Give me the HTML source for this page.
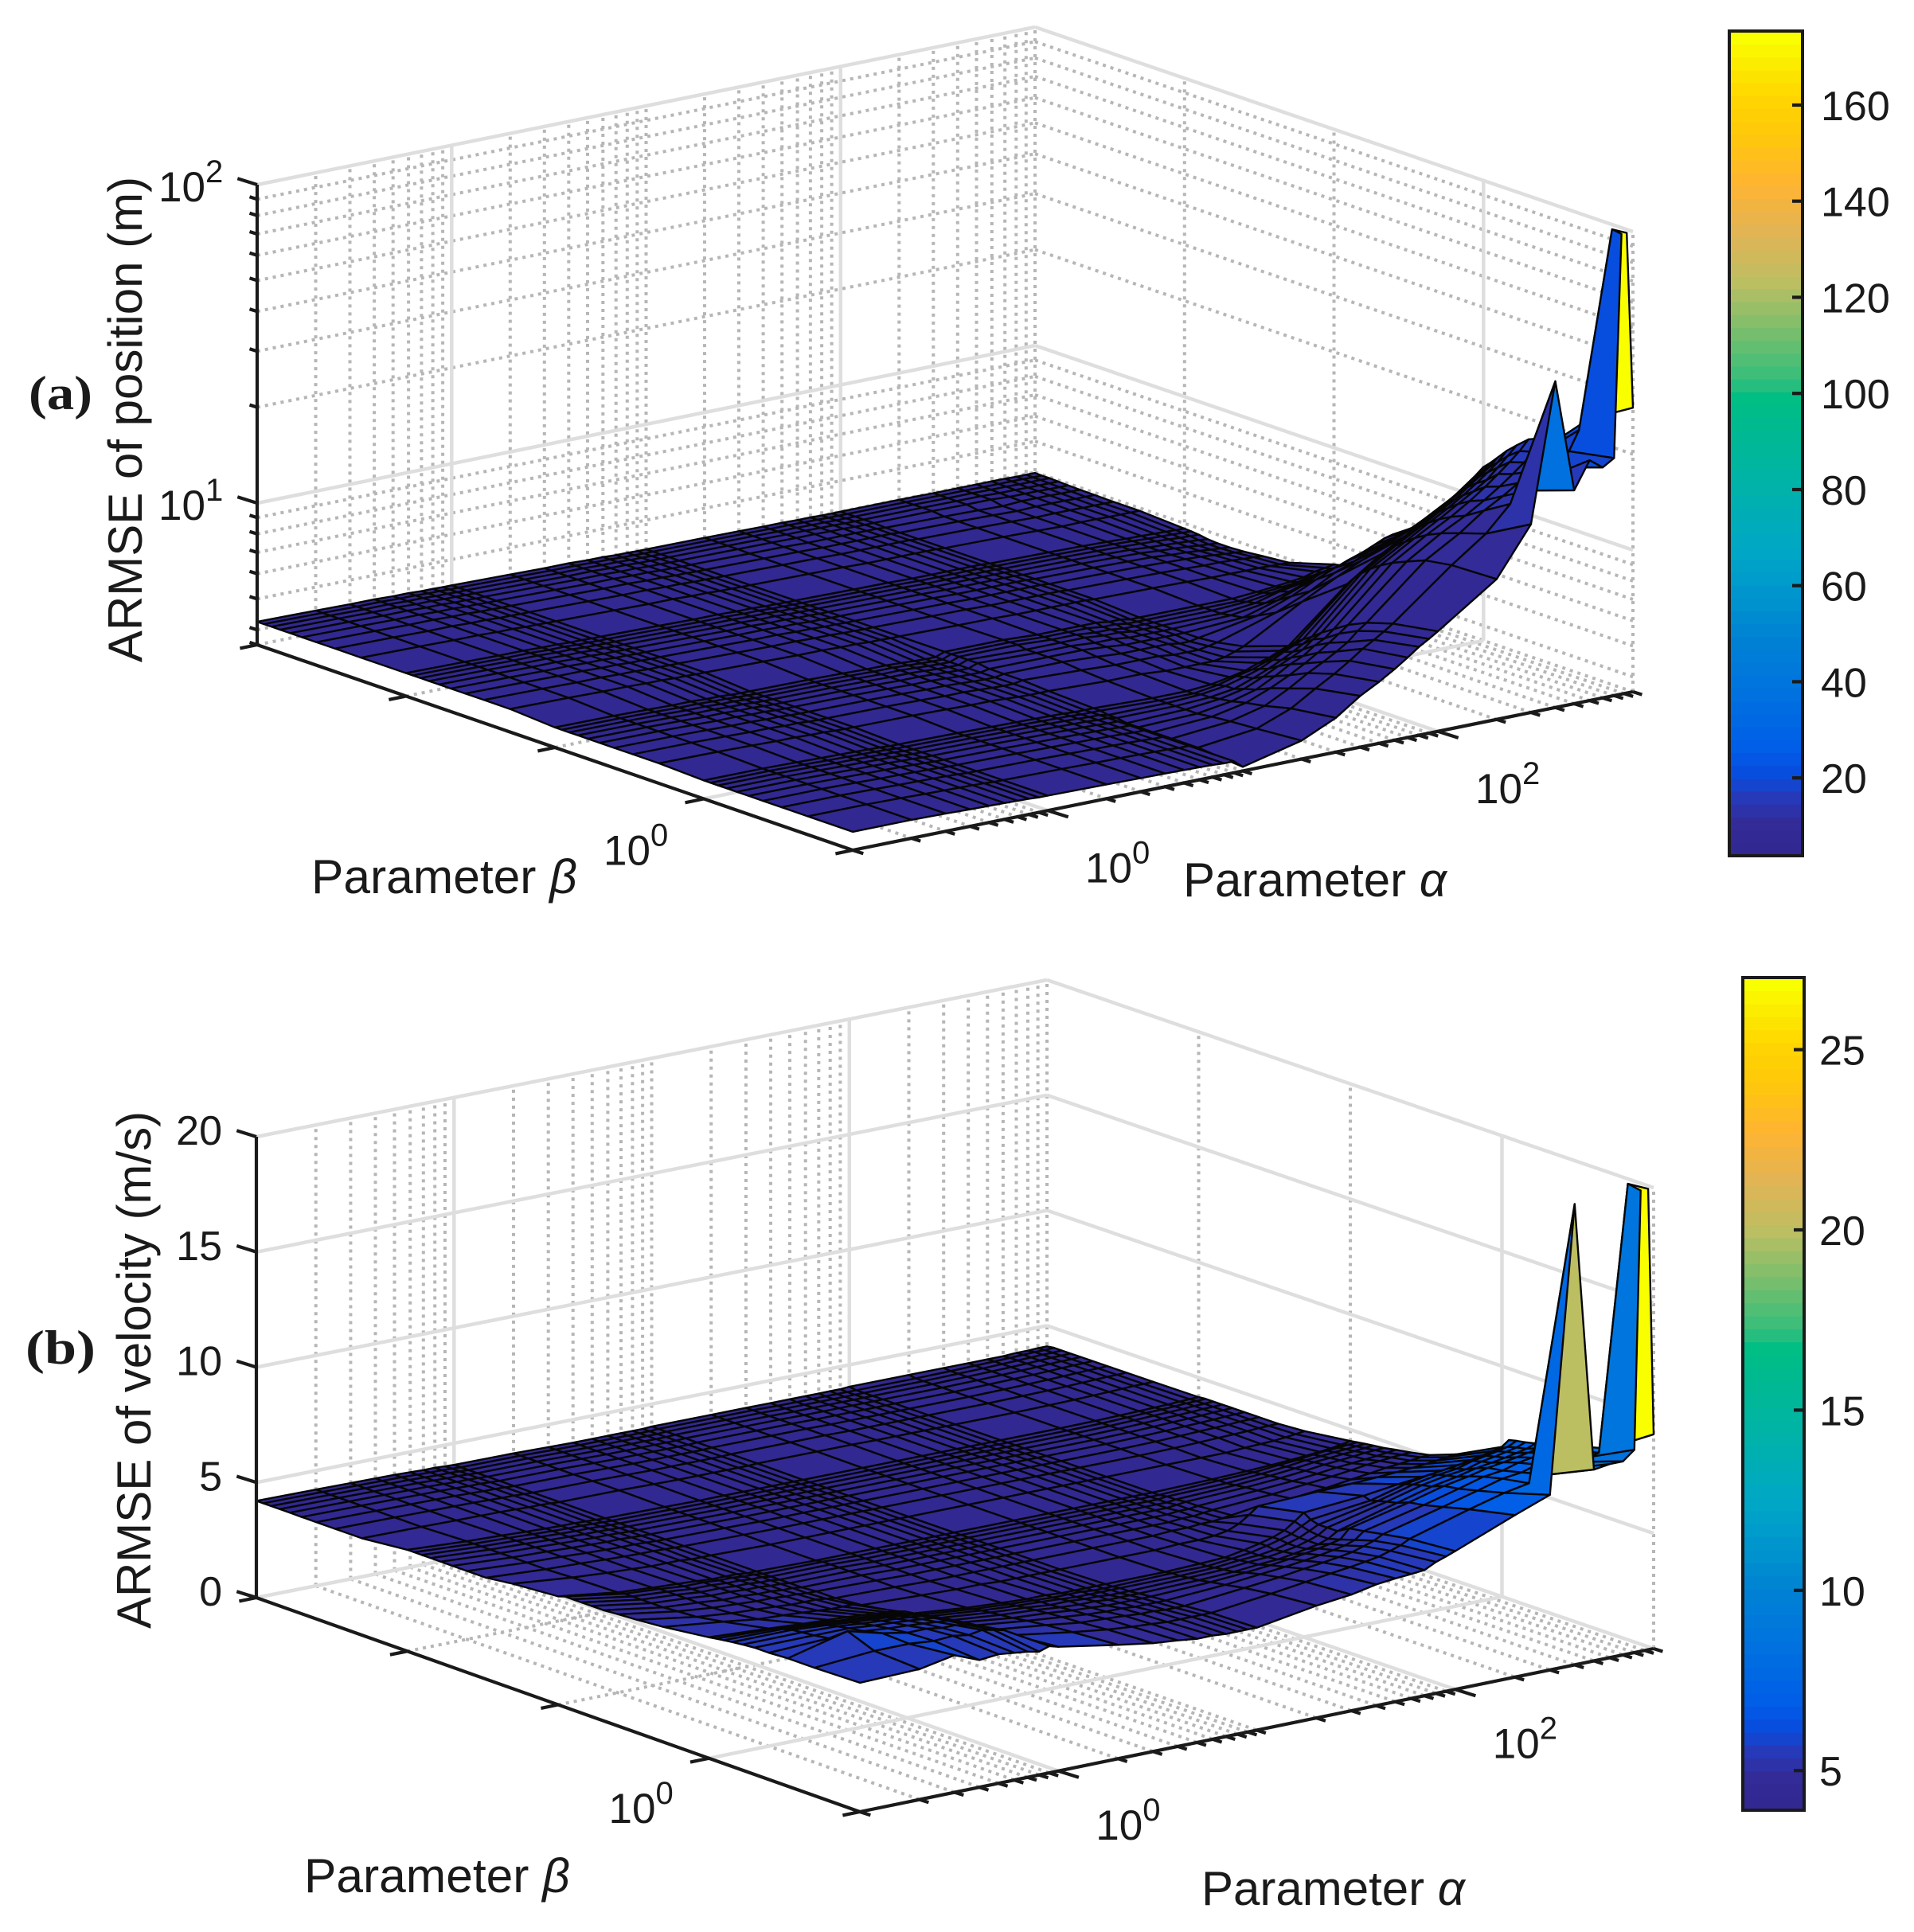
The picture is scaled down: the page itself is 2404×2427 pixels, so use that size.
<!DOCTYPE html>
<html lang="en">
<head>
<meta charset="utf-8">
<title>ARMSE surfaces over parameters alpha and beta</title>
<style>
html,body{margin:0;padding:0;background:#fff}
svg{display:block}
text{font-family:"Liberation Sans",Arial,sans-serif;fill:#1a1a1a}
</style>
</head>
<body>
<svg id="figure" xmlns="http://www.w3.org/2000/svg" width="2404" height="2427" viewBox="0 0 2404 2427">
  <rect width="2404" height="2427" fill="#fff"/>
  <g id="panelA"></g>
  <g id="panelB"></g>

  <text x="36" y="514" font-size="60" font-weight="bold" textLength="80" lengthAdjust="spacingAndGlyphs" style="font-family:'Liberation Serif',serif">(a)</text>
  <text x="32" y="1713" font-size="60" font-weight="bold" textLength="88" lengthAdjust="spacingAndGlyphs" style="font-family:'Liberation Serif',serif">(b)</text>

  <text font-size="60" text-anchor="middle" transform="translate(178 527) rotate(-90)">ARMSE of position (m)</text>
  <text font-size="60" text-anchor="middle" transform="translate(189 1721) rotate(-90)">ARMSE of velocity (m/s)</text>

  <text x="391" y="1122" font-size="60.5">Parameter <tspan font-style="italic">β</tspan></text>
  <text x="1486" y="1126" font-size="60">Parameter <tspan font-style="italic">α</tspan></text>
  <text x="382" y="2377" font-size="60.5">Parameter <tspan font-style="italic">β</tspan></text>
  <text x="1509" y="2393" font-size="60">Parameter <tspan font-style="italic">α</tspan></text>
</svg>

<script>
// ---- shared grid values ----
const alphaValues = [0.1,0.2,0.3,0.4,0.5,0.6,0.7,0.8,0.9,1,2,3,4,5,6,7,8,9,10,20,30,40,50,60,70,80,90,100,200,300,400,500,600,700,800,900,1000];
const betaValues = [10,5,3.333,2.5,2,1.667,1.429,1.25,1.111,1,0.5,0.3333,0.25,0.2,0.1667,0.1429,0.125,0.1111,0.1,0.05,0.03333,0.025,0.02,0.01667,0.01429,0.0125,0.01111,0.01,0.005,0.003333,0.0025,0.002,0.001667,0.001429,0.00125,0.001111,0.001];
const alphaMajorTicks = [1,100];
const alphaMinorTicks = [0.2,0.3,0.4,0.5,0.6,0.7,0.8,0.9,2,3,4,5,6,7,8,9,10,20,30,40,50,60,70,80,90,200,300,400,500,600,700,800,900,1000];
const betaMajorTicks = [1];
const betaMinorTicks = [0.001,0.01,0.1,10];

// ---- panel (a): position ARMSE ----
const posZMajor = [10,100];
const posZMinor = [4,5,6,7,8,9,20,30,40,50,60,70,80,90];
const posBarTicks = [20,40,60,80,100,120,140,160];
const posLowFront = [4.1,4.1,4.08,4.06,4.05,4.04,4.03,4.02,4.0,4.0,3.98,3.96,3.95,3.94,3.93,3.92,3.9,3.9];
const posLowMid = [4.15,4.14,4.12,4.1,4.1,4.08,4.08,4.06,4.05,4.05,4.04,4.02,4.0,4.0,3.98,3.96,3.95,3.95];
const posLowFar = [4.24,4.22,4.2,4.2,4.18,4.18,4.16,4.16,4.15,4.15,4.12,4.1,4.1,4.08,4.08,4.06,4.06,4.05];
const posTailHead = [4.05,4.03,4.02,4.0,4.0,4.0,4.0,4.0,4.0,3.98,3.96,3.94,3.92];
const posTailEdge = [4.05,4.04,4.03,4.02,4.02,4.01,4.01,4.0,4.0,4.0,4.0,3.99,3.99];
const posZ = [
[...posLowFront,3.7,4.1,4.6,5.2,5.6,6.0,6.4,6.8,7.1,7.4,9.9,14,38,16.8,20.4,19,20,174,28],
[...posLowFront,3.8,4.0,4.4,4.9,5.3,5.7,6.1,6.4,6.7,7.0,9.8,11.7,14,15,16,17,18.8,21.6,23],
[...posLowFront,3.8,3.95,4.2,4.6,5.0,5.3,5.6,5.9,6.3,6.6,9.5,11,12.5,13.5,14.5,15.5,16.5,18,19],
[...posLowFront,3.8,3.9,4.1,4.4,4.7,5.0,5.3,5.6,5.9,6.2,9.0,10.5,11.5,12.5,13.5,14.5,15.5,16.5,18],
[...posLowFront,3.8,3.85,4.0,4.2,4.5,4.8,5.0,5.3,5.5,5.8,8.6,10,11,12,13,14,15,16,17.2],
[...posLowFront,3.8,3.85,3.95,4.1,4.35,4.6,4.8,5.0,5.3,5.5,8.2,9.5,10.5,11.4,12.2,13,14,15,16],
[...posLowFront,3.85,3.85,3.9,4.0,4.2,4.4,4.6,4.8,5.0,5.2,7.8,9,10,10.8,11.6,12.4,13.2,14,15],
[...posLowFront,3.85,3.85,3.9,4.0,4.15,4.3,4.5,4.7,4.85,5.0,7.4,8.6,9.5,10.3,11,11.8,12.5,13.2,14],
[...posLowFront,3.9,3.85,3.85,3.95,4.1,4.2,4.35,4.5,4.65,4.8,7.0,8.2,9.1,9.8,10.5,11.2,11.8,12.5,13.2],
[...posLowFront,3.9,3.85,3.85,3.9,4.0,4.1,4.25,4.35,4.5,4.6,6.6,7.8,8.6,9.3,10,10.6,11.2,11.9,12.6],
[...posLowMid,3.95,3.9,3.9,3.85,3.85,3.85,3.85,3.9,4.0,4.1,5.2,5.9,6.4,6.8,7.1,7.4,7.6,7.8,7.9],
[...posLowMid,4.0,3.95,3.9,3.9,3.9,3.85,3.85,3.85,3.9,3.95,4.5,5.0,5.5,5.8,6.1,6.3,6.5,6.7,6.8],
[...posLowMid,4.0,4.0,3.95,3.9,3.9,3.9,3.9,3.85,3.85,3.9,4.2,4.6,5.0,5.3,5.5,5.7,5.9,6.1,6.2],
[...posLowMid,4.0,4.0,4.0,3.95,3.9,3.9,3.9,3.9,3.9,3.9,4.0,4.3,4.6,4.9,5.0,5.2,5.3,5.5,5.6],
[...posLowMid,4.05,4.0,4.0,3.95,3.95,3.9,3.9,3.9,3.9,3.9,3.95,4.1,4.3,4.5,4.7,4.8,4.9,5.0,5.1],
[...posLowMid,4.05,4.0,4.0,4.0,3.95,3.95,3.9,3.9,3.9,3.9,3.9,4.0,4.2,4.3,4.4,4.5,4.6,4.65,4.7],
[...posLowMid,4.05,4.05,4.0,4.0,3.95,3.95,3.9,3.9,3.9,3.9,3.9,3.95,4.05,4.15,4.25,4.3,4.4,4.45,4.5],
[...posLowMid,4.05,4.05,4.0,4.0,4.0,3.95,3.95,3.9,3.9,3.9,3.9,3.9,4.0,4.05,4.1,4.2,4.25,4.3,4.35],
[...posLowMid,4.05,4.05,4.0,4.0,4.0,4.0,3.95,3.95,3.9,3.9,3.9,3.9,3.95,4.0,4.05,4.1,4.2,4.25,4.3],
[...posLowFar,...posTailHead,3.92,3.92,3.92,3.91,3.9,3.9],
[...posLowFar,...posTailHead,3.9,3.9,3.88,3.86,3.85,3.83],
[...posLowFar,...posTailHead,3.9,3.88,3.85,3.82,3.8,3.78],
[...posLowFar,...posTailHead,3.88,3.86,3.83,3.8,3.78,3.76],
[...posLowFar,...posTailHead,3.88,3.86,3.83,3.8,3.78,3.76],
[...posLowFar,...posTailHead,3.88,3.86,3.84,3.82,3.8,3.78],
[...posLowFar,...posTailHead,3.9,3.88,3.86,3.84,3.83,3.82],
[...posLowFar,...posTailHead,3.9,3.88,3.87,3.86,3.85,3.84],
[...posLowFar,...posTailHead,3.9,3.89,3.88,3.87,3.86,3.85],
[...posLowFar,...posTailHead,3.93,3.93,3.92,3.92,3.92,3.92],
[...posLowFar,...posTailHead,3.93,3.93,3.92,3.92,3.92,3.92],
[...posLowFar,...posTailHead,3.94,3.94,3.94,3.93,3.93,3.93],
[...posLowFar,...posTailHead,3.95,3.95,3.95,3.94,3.94,3.94],
[...posLowFar,...posTailEdge,3.96,3.96,3.96,3.95,3.95,3.95],
[...posLowFar,...posTailEdge,3.97,3.97,3.96,3.96,3.96,3.96],
[...posLowFar,...posTailEdge,3.98,3.98,3.97,3.97,3.97,3.97],
[...posLowFar,...posTailEdge,3.98,3.98,3.98,3.98,3.97,3.97],
[...posLowFar,...posTailEdge,3.99,3.99,3.99,3.98,3.98,3.98]
];

// ---- panel (b): velocity ARMSE ----
const velZMajor = [0,5,10,15,20];
const velZMinor = [];
const velBarTicks = [5,10,15,20,25];
const velLowDeci = [4.8,4.4,4.3,4.2,4.2,4.15,4.15,4.1,4.1,4.05,4.05,4.0,4.0,4.0,4.0,4.0,4.0,4.0];
const velLowCenti = [4.4,4.25,4.2,4.15,4.12,4.1,4.1,4.08,4.06,4.05,4.02,4.0,4.0,4.0,4.0,4.0,4.0,4.0];
const velLowMilli = [4.2,4.18,4.16,4.15,4.14,4.12,4.1,4.1,4.08,4.06,4.05,4.02,4.0,4.0,4.0,4.0,4.0,4.0];
const velTailMid = [4.0,4.0,4.0,4.0,4.0,4.0,4.0,4.0,4.0,4.0,4.0,4.02,4.05,4.08,4.1,4.12,4.15,4.16,4.18];
const velTailFar = [4.02,4.02,4.02,4.0,4.0,4.0,4.0,4.0,4.0,4.0,4.0,4.02,4.04,4.06,4.08,4.1,4.12,4.12,4.14];
const velZ = [
[5.6,5.66,5.95,5.52,5.6,5.52,5.45,5.35,5.5,5.39,4.94,4.7,4.6,4.5,4.5,4.45,4.45,4.45,4.45,4.87,5.04,5.26,5.35,5.4,5.45,5.7,5.85,6.0,7.03,7.6,20,8.3,8.4,8.4,8.8,27,9.3],
[5.55,5.75,5.75,5.65,5.7,5.6,5.7,5.6,5.5,5.2,4.8,4.6,4.5,4.45,4.4,4.4,4.4,4.4,4.4,4.7,4.9,5.05,5.15,5.25,5.35,5.5,5.65,5.85,6.6,7.0,7.2,7.4,7.5,7.7,7.8,7.9,8.0],
[5.55,6.2,5.8,5.6,5.6,5.5,5.5,5.4,5.3,5.0,4.7,4.5,4.45,4.4,4.35,4.35,4.3,4.3,4.3,4.55,4.7,4.85,4.95,5.05,5.15,5.3,5.45,5.65,6.3,6.7,7.0,7.1,7.3,7.4,7.5,7.6,7.7],
[5.5,5.6,5.6,5.5,5.45,5.4,5.35,5.3,5.2,4.9,4.6,4.45,4.35,4.3,4.3,4.25,4.25,4.25,4.25,4.4,4.55,4.65,4.75,4.85,4.95,5.05,5.2,5.5,6.1,6.5,6.8,6.9,7.1,7.2,7.3,7.4,7.5],
[5.5,5.5,5.5,5.4,5.35,5.3,5.25,5.2,5.1,4.8,4.5,4.4,4.3,4.25,4.2,4.2,4.2,4.2,4.2,4.3,4.4,4.5,4.6,4.7,4.8,4.9,5.0,5.4,6.0,6.4,6.6,6.8,6.9,7.0,7.1,7.2,7.3],
[5.45,5.45,5.4,5.3,5.25,5.2,5.15,5.1,5.0,4.7,4.45,4.35,4.25,4.2,4.2,4.15,4.15,4.15,4.15,4.2,4.25,4.35,4.4,4.5,4.6,4.7,4.85,5.1,5.8,6.2,6.4,6.6,6.7,6.8,6.9,7.0,7.15],
[5.4,5.4,5.3,5.2,5.15,5.1,5.05,5.0,4.9,4.65,4.4,4.3,4.2,4.2,4.15,4.15,4.1,4.1,4.1,4.15,4.2,4.3,4.35,4.45,4.55,4.7,4.85,5.1,5.7,6.1,6.3,6.4,6.6,6.7,6.8,6.9,7.05],
[5.35,5.3,5.2,5.1,5.05,5.0,4.95,4.9,4.85,4.6,4.35,4.25,4.2,4.15,4.1,4.1,4.1,4.1,4.1,4.1,4.15,4.25,4.3,4.4,4.55,4.7,4.9,5.1,5.6,6.0,6.2,6.3,6.5,6.6,6.7,6.8,6.98],
[5.3,5.2,5.1,5.0,4.95,4.9,4.85,4.8,4.8,4.55,4.3,4.2,4.15,4.1,4.1,4.1,4.05,4.05,4.05,4.1,4.1,4.2,4.3,4.45,4.6,4.75,5.0,5.2,5.5,5.9,6.1,6.2,6.3,6.4,6.5,6.6,6.9],
[5.25,5.1,5.0,4.95,4.9,4.85,4.8,4.75,4.7,4.5,4.25,4.15,4.1,4.1,4.05,4.05,4.05,4.05,4.05,4.05,4.1,4.15,4.3,4.45,4.6,4.8,5.1,5.4,5.6,5.8,5.9,6.0,6.1,6.2,6.3,6.4,6.5],
[5.0,4.7,4.5,4.45,4.4,4.35,4.3,4.3,4.3,4.2,4.1,4.05,4.05,4.0,4.0,4.0,4.0,4.0,4.0,4.0,4.0,4.05,4.05,4.1,4.2,4.4,4.7,5.0,5.1,5.15,5.2,5.25,5.3,5.35,5.4,5.45,5.5],
[4.9,4.5,4.35,4.3,4.25,4.2,4.2,4.2,4.15,4.1,4.05,4.0,4.0,4.0,4.0,4.0,4.0,4.0,4.0,4.0,4.0,4.0,4.05,4.05,4.1,4.1,4.15,4.2,4.4,4.55,4.7,4.8,4.9,4.95,5.0,5.05,5.07],
[4.85,4.45,4.3,4.25,4.2,4.2,4.15,4.15,4.1,4.1,4.05,4.0,4.0,4.0,4.0,4.0,4.0,4.0,4.0,4.0,4.0,4.0,4.0,4.0,4.05,4.05,4.1,4.15,4.3,4.45,4.55,4.65,4.75,4.8,4.85,4.88,4.9],
[...velLowDeci,4.0,4.0,4.0,4.0,4.0,4.0,4.0,4.05,4.05,4.1,4.25,4.35,4.45,4.55,4.6,4.65,4.7,4.75,4.8],
[...velLowDeci,4.0,4.0,4.0,4.0,4.0,4.0,4.0,4.0,4.05,4.1,4.2,4.3,4.4,4.5,4.55,4.6,4.65,4.68,4.7],
[...velLowDeci,4.0,4.0,4.0,4.0,4.0,4.0,4.0,4.0,4.0,4.05,4.15,4.25,4.35,4.45,4.5,4.55,4.58,4.62,4.65],
[...velLowDeci,4.0,4.0,4.0,4.0,4.0,4.0,4.0,4.0,4.0,4.05,4.1,4.2,4.3,4.4,4.45,4.5,4.53,4.57,4.6],
[...velLowDeci,4.0,4.0,4.0,4.0,4.0,4.0,4.0,4.0,4.0,4.0,4.1,4.15,4.25,4.3,4.4,4.45,4.48,4.52,4.55],
[4.7,4.35,4.25,4.2,4.15,4.1,4.1,4.1,4.05,4.05,4.0,4.0,4.0,4.0,4.0,4.0,4.0,4.0,4.0,4.0,4.0,4.0,4.0,4.0,4.0,4.0,4.0,4.0,4.05,4.1,4.15,4.2,4.25,4.3,4.35,4.42,4.5],
[4.55,4.3,4.2,4.15,4.1,4.1,4.1,4.05,4.05,4.05,4.0,4.0,4.0,4.0,4.0,4.0,4.0,4.0,4.0,4.0,4.0,4.0,4.0,4.0,4.0,4.0,4.0,4.0,4.0,4.0,4.0,4.05,4.08,4.1,4.15,4.2,4.25],
[...velLowCenti,...velTailMid],
[...velLowCenti,...velTailMid],
[...velLowCenti,...velTailMid],
[...velLowCenti,...velTailMid],
[...velLowCenti,...velTailMid],
[...velLowCenti,...velTailMid],
[...velLowCenti,...velTailMid],
[...velLowCenti,4.0,4.0,4.0,4.0,4.0,4.0,4.0,4.0,4.0,4.0,4.0,4.02,4.04,4.06,4.08,4.1,4.12,4.14,4.15],
[...velLowMilli,...velTailFar],
[...velLowMilli,...velTailFar],
[...velLowMilli,...velTailFar],
[...velLowMilli,...velTailFar],
[...velLowMilli,...velTailFar],
[...velLowMilli,...velTailFar],
[...velLowMilli,...velTailFar],
[...velLowMilli,...velTailFar],
[...velLowMilli,4.02,4.02,4.02,4.02,4.02,4.02,4.02,4.02,4.02,4.05,4.05,4.05,4.05,4.05,4.05,4.08,4.08,4.1,4.1]
];

// ---- colormap ----
const cmapStops = [0,0.03,0.06,0.09,0.12,0.18,0.26,0.36,0.46,0.56,0.575,0.63,0.70,0.76,0.82,0.88,0.93,1];
const cmapRed =   [50,50,42,10,0,0,0,0,0,0,50,110,190,225,255,255,255,250];
const cmapGreen = [40,42,55,75,92,110,130,165,180,190,190,190,190,180,180,200,215,255];
const cmapBlue =  [145,150,180,220,232,225,212,200,165,130,125,110,98,85,50,10,0,0];

function colorAt(t){
  const levels = 64;
  const q = Math.min(levels-1, Math.max(0, Math.floor(t*levels)))/(levels-1);
  let k = 0;
  while(k < cmapStops.length-2 && q > cmapStops[k+1]) k++;
  const f = (q-cmapStops[k])/(cmapStops[k+1]-cmapStops[k]);
  const mix = a => Math.round(a[k]+(a[k+1]-a[k])*f);
  return 'rgb('+mix(cmapRed)+','+mix(cmapGreen)+','+mix(cmapBlue)+')';
}

const NS = 'http://www.w3.org/2000/svg';
function make(tag, parent, attrs){
  const el = document.createElementNS(NS, tag);
  for(const k in attrs) el.setAttribute(k, attrs[k]);
  parent.appendChild(el);
  return el;
}
const uOfAlpha = a => (Math.log10(a)+1)/4;
const vOfBeta = b => (Math.log10(b)+3)/4;

function drawPanel(cfg){
  const root = document.getElementById(cfg.id);
  const c = cfg.corners;
  const bil = (k,u,v) => c.left[k]*(1-u)*(1-v)+c.back[k]*u*(1-v)+c.front[k]*(1-u)*v+c.right[k]*u*v;
  const project = (u,v,t) => [bil(0,u,v), bil(1,u,v)-t*cfg.height];
  const tz = cfg.zScale;
  const solid = {stroke:'#dedede','stroke-width':4.5,fill:'none'};
  const dotted = {stroke:'#b6b6b6','stroke-width':4,'stroke-dasharray':'4 6',fill:'none'};

  const seg = (parent,p,q,style,name) => {
    const el = make('line',parent,Object.assign({x1:p[0].toFixed(1),y1:p[1].toFixed(1),x2:q[0].toFixed(1),y2:q[1].toFixed(1)},style));
    
    
    return el;
  };

  // grid
  const grid = make('g',root,{});
  
  
  const zLine = (z,style) => {
    const t = tz(z);
    seg(grid,project(0,0,t),project(1,0,t),style,'left-wall-z-gridline');
    seg(grid,project(1,0,t),project(1,1,t),style,'right-wall-z-gridline');
  };
  const alphaLine = (a,style) => {
    const u = uOfAlpha(a);
    seg(grid,project(u,0,0),project(u,0,1),style,'wall-alpha-gridline');
    seg(grid,project(u,0,0),project(u,1,0),style,'floor-alpha-gridline');
  };
  const betaLine = (b,style) => {
    const v = vOfBeta(b);
    seg(grid,project(1,v,0),project(1,v,1),style,'wall-beta-gridline');
    seg(grid,project(0,v,0),project(1,v,0),style,'floor-beta-gridline');
  };
  cfg.zMinor.forEach(z => zLine(z,dotted));
  alphaMinorTicks.forEach(a => alphaLine(a,dotted));
  betaMinorTicks.forEach(b => betaLine(b,dotted));
  cfg.zMajor.forEach(z => zLine(z,solid));
  alphaMajorTicks.forEach(a => alphaLine(a,solid));
  betaMajorTicks.forEach(b => betaLine(b,solid));

  // surface
  const surf = make('g',root,{stroke:'#060606','stroke-width':2.4,'stroke-linejoin':'round'});
  
  
  const clipTop = pts => {
    const out = [];
    for(let n=0;n<pts.length;n++){
      const a = pts[n], b = pts[(n+1)%pts.length];
      const ai = a[2] <= 1, bi = b[2] <= 1;
      if(ai) out.push(a);
      if(ai !== bi){
        const f = (1-a[2])/(b[2]-a[2]);
        out.push([a[0]+(b[0]-a[0])*f, a[1]+(b[1]-a[1])*f, 1]);
      }
    }
    return out;
  };
  const Z = cfg.z;
  const vert = (j,i) => [uOfAlpha(alphaValues[i]), vOfBeta(betaValues[j]), tz(Z[j][i])];
  for(let i=alphaValues.length-2;i>=0;i--){
    for(let j=betaValues.length-2;j>=0;j--){
      const quad = clipTop([vert(j,i),vert(j,i+1),vert(j+1,i+1),vert(j+1,i)]);
      if(quad.length < 3) continue;
      const pts = quad.map(p => project(p[0],p[1],p[2]).map(n => n.toFixed(1)).join(',')).join(' ');
      const t = (Z[j][i]-cfg.domain[0])/(cfg.domain[1]-cfg.domain[0]);
      const poly = make('polygon',surf,{points:pts,fill:colorAt(t)});
      
      
    }
  }

  // axes
  const axes = make('g',root,{});
  
  
  const ink = {stroke:'#1a1a1a','stroke-width':4.2,fill:'none'};
  seg(axes,project(0,0,0),project(0,0,1),ink,'z-axis-line');
  seg(axes,project(0,0,0),project(0,1,0),ink,'beta-axis-line');
  seg(axes,project(0,1,0),project(1,1,0),ink,'alpha-axis-line');
  const tick = (p,dx,dy,len,name) => seg(axes,p,[p[0]+dx*len,p[1]+dy*len],ink,name);
  alphaMajorTicks.forEach(a => tick(project(uOfAlpha(a),1,0),0.95,0.3,27,'alpha-major-tick'));
  alphaMinorTicks.forEach(a => tick(project(uOfAlpha(a),1,0),0.95,0.3,12,'alpha-minor-tick'));
  tick(project(0,1,0),0.95,0.3,14,'alpha-minor-tick');
  betaMajorTicks.forEach(b => tick(project(0,vOfBeta(b),0),-0.98,0.2,24,'beta-major-tick'));
  betaMinorTicks.forEach(b => tick(project(0,vOfBeta(b),0),-0.98,0.2,22,'beta-minor-tick'));
  cfg.zMajor.forEach(z => tick(project(0,0,tz(z)),-0.95,-0.3,26,'z-major-tick'));
  cfg.zMinor.forEach(z => tick(project(0,0,tz(z)),-0.95,-0.3,10,'z-minor-tick'));
  tick(project(0,0,0),-0.95,-0.3,10,'z-limit-tick');

  // tick labels
  const power = (x,y,exp,name) => {
    const el = make('text',axes,{x:x.toFixed(1),y:y.toFixed(1),'font-size':53});
    
    
    el.appendChild(document.createTextNode('10'));
    const sup = make('tspan',el,{dy:-24,'font-size':40});
    
    
    sup.textContent = exp;
  };
  alphaMajorTicks.forEach(a => {
    const p = project(uOfAlpha(a),1,0);
    power(p[0]+cfg.alphaLabel[0],p[1]+cfg.alphaLabel[1],String(Math.round(Math.log10(a))),'alpha-tick-label');
  });
  betaMajorTicks.forEach(b => {
    const p = project(0,vOfBeta(b),0);
    power(p[0]+cfg.betaLabel[0],p[1]+cfg.betaLabel[1],String(Math.round(Math.log10(b))),'beta-tick-label');
  });
  cfg.zMajor.forEach(z => {
    const p = project(0,0,tz(z));
    if(cfg.logZ){
      power(199,p[1]+21,String(Math.round(Math.log10(z))),'z-tick-label');
    } else {
      const el = make('text',axes,{x:279,y:(p[1]+10).toFixed(1),'font-size':52,'text-anchor':'end'});
      
      
      el.textContent = String(z);
    }
  });

  // colorbar
  const bar = make('g',root,{});
  
  
  const b = cfg.bar;
  const levels = 64;
  const segH = (b.bottom-b.top)/levels;
  for(let k=0;k<levels;k++){
    const r = make('rect',bar,{x:b.left,y:(b.bottom-(k+1)*segH).toFixed(2),width:b.right-b.left,height:(segH+0.6).toFixed(2),fill:colorAt((k+0.5)/levels)});
    
    
  }
  const frame = make('rect',bar,{x:b.left,y:b.top,width:b.right-b.left,height:b.bottom-b.top,fill:'none',stroke:'#1a1a1a','stroke-width':4});
  
  
  const barY = v => b.bottom-(v-cfg.domain[0])/(cfg.domain[1]-cfg.domain[0])*(b.bottom-b.top);
  cfg.barTicks.forEach(v => {
    const y = barY(v);
    seg(bar,[b.right-13,y],[b.right,y],ink,'colorbar-tick');
    const label = make('text',bar,{x:b.labelX,y:(y+19).toFixed(1),'font-size':52});
    
    
    label.textContent = String(v);
  });
}

const logFloorA = Math.log10(3.59);
drawPanel({
  id:'panelA',
  corners:{left:[323,810],front:[1071,1068],back:[1300,612],right:[2051,869]},
  height:578,
  zScale:z => (Math.log10(z)-logFloorA)/(2-logFloorA),
  logZ:true,
  z:posZ,
  zMajor:posZMajor,
  zMinor:posZMinor,
  domain:[3.8,175.4],
  barTicks:posBarTicks,
  bar:{left:2172,right:2264,top:39,bottom:1075,labelX:2287},
  alphaLabel:[47,90],
  betaLabel:[-126,83]
});
drawPanel({
  id:'panelB',
  corners:{left:[322,2007],front:[1080,2276],back:[1315,1810],right:[2077,2071]},
  height:579,
  zScale:z => z/20,
  logZ:false,
  z:velZ,
  zMajor:velZMajor,
  zMinor:velZMinor,
  domain:[3.9,27],
  barTicks:velBarTicks,
  bar:{left:2189,right:2266,top:1228,bottom:2274,labelX:2285},
  alphaLabel:[47,86],
  betaLabel:[-126,81]
});
</script>
</body>
</html>
